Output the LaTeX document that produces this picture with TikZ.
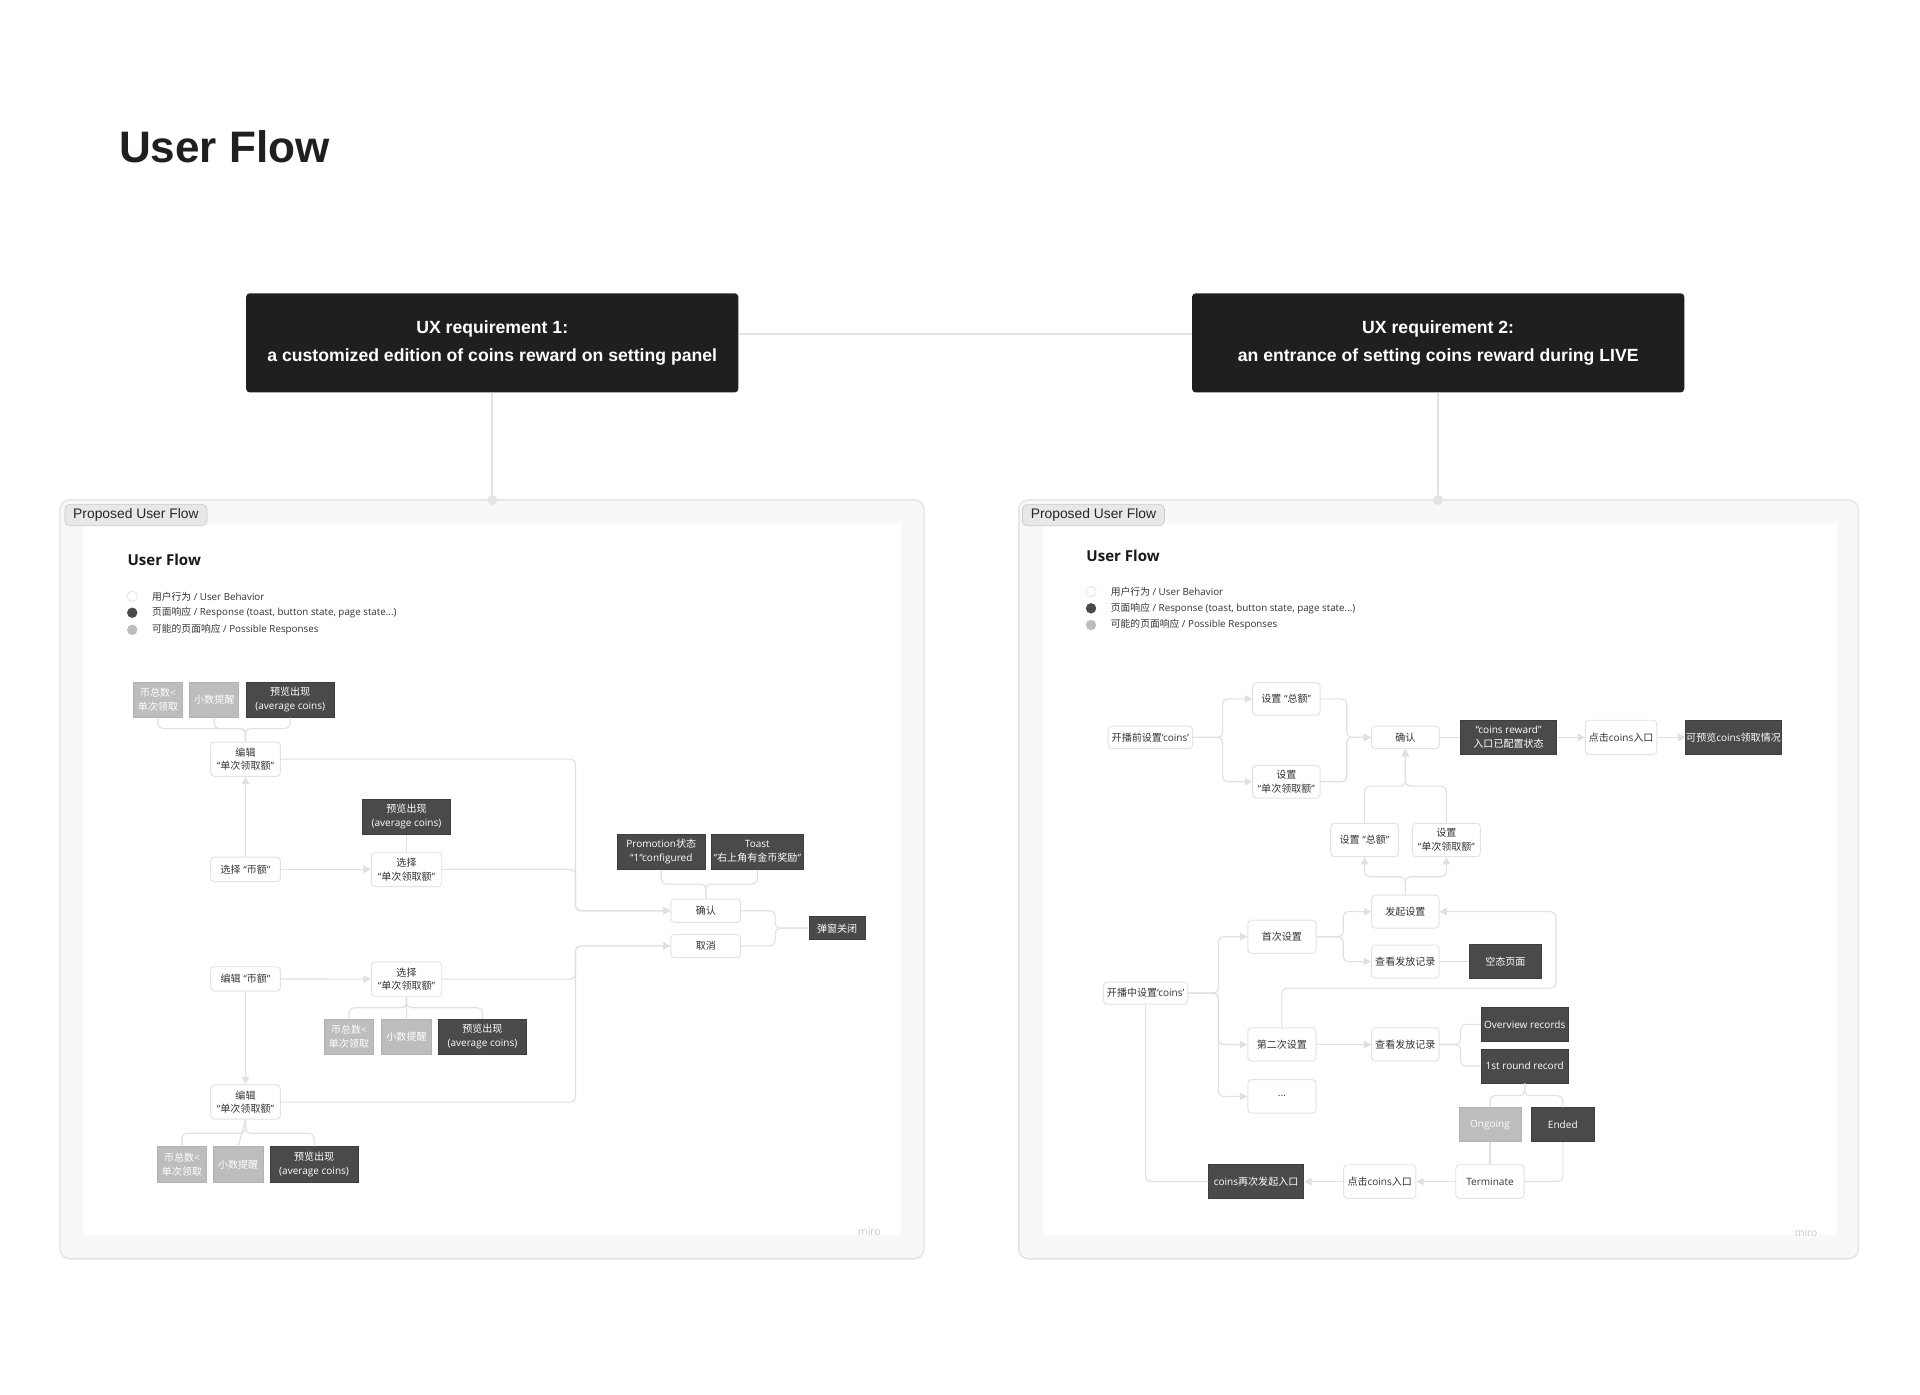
\documentclass[tikz,border=0pt]{standalone}
\usepackage{fontspec}
\setmainfont{Open Sans}
\newfontfamily\lat{Open Sans}
\newfontfamily\hd{Liberation Sans}
\newfontfamily\cjkf{Noto Sans CJK SC}
\newcommand\zh[1]{{\cjkf #1}}
\newcommand\nf{\lat\fontsize{8.2}{11.2}\selectfont}
\usetikzlibrary{arrows.meta}
\definecolor{lnc}{HTML}{E0E0E0}
\definecolor{wbd}{HTML}{E3E3E3}
\definecolor{txt}{HTML}{333333}
\definecolor{dk}{HTML}{4A4A4A}
\definecolor{dkb}{HTML}{3E3E3E}
\definecolor{gy}{HTML}{BDBDBD}
\definecolor{gyb}{HTML}{B2B2B2}
\definecolor{hdbox}{HTML}{1F1F1F}
\definecolor{panelfill}{HTML}{F8F8F8}
\definecolor{panelbd}{HTML}{E4E4E4}
\definecolor{tabfill}{HTML}{E8E8E8}
\definecolor{tabbd}{HTML}{CACACA}
\definecolor{mirotxt}{HTML}{C8C6D4}
\tikzset{
  nbase/.style={inner sep=0pt, align=center, font=\nf},
  sz/.style 2 args={minimum width=#1pt, minimum height=#2pt},
  wn/.style={nbase, draw=wbd, fill=white, rounded corners=3pt, line width=0.8pt, text=txt},
  dn/.style={nbase, draw=dkb, fill=dk, text=white, line width=0.6pt},
  gn/.style={nbase, draw=gyb, fill=gy, text=white, line width=0.6pt},
  conn/.style={draw=lnc, line width=0.9pt, rounded corners=4pt},
  arr/.style={conn, -{Triangle[length=6pt,width=6pt]}},
  hdbx/.style={fill=hdbox, rounded corners=3pt, text=white, align=center, inner sep=0pt,
    font=\hd\bfseries\fontsize{14.4}{22.3}\selectfont, minimum width=402pt, minimum height=81pt},
  hdline/.style={draw=panelbd, line width=1.6pt},
  hdot/.style={circle, fill=panelbd, inner sep=0pt, minimum size=8pt},
  tabn/.style={fill=tabfill, draw=tabbd, rounded corners=4pt, line width=0.6pt, inner sep=0pt,
    minimum width=116pt, minimum height=17.4pt, font=\hd\fontsize{11.3}{12}\selectfont, text=black!85},
  legtxt/.style={anchor=west, inner sep=0pt, font=\lat\fontsize{8}{9}\selectfont, text=txt},
  legc/.style={circle, inner sep=0pt, minimum size=8.5pt},
  uft/.style={anchor=west, inner sep=0pt, font=\lat\bfseries\fontsize{12.3}{14}\selectfont, text=black!90},
  miro/.style={font=\lat\fontsize{8.5}{9}\selectfont, text=mirotxt, inner sep=0pt}
}
\begin{document}
\begin{tikzpicture}[x=1pt,y=-1pt]
\useasboundingbox (0,0) rectangle (1568,1139.2);
\fill[white] (0,0) rectangle (1568,1139.2);

% ---------- title and header boxes ----------
\node[anchor=base west, inner sep=0pt, font=\hd\bfseries\fontsize{36}{40}\selectfont, text=black!88] (title) at (97,133) {User Flow};
\node[hdbx] (b1) at (402,280) {UX requirement 1:\\a customized edition of coins reward on setting panel};
\node[hdbx] (b2) at (1174.5,280) {UX requirement 2:\\an entrance of setting coins reward during LIVE};

% ---------- panels ----------
\draw[draw=panelbd, fill=panelfill, rounded corners=8pt, line width=1.2pt] (49,408.3) rectangle (754.6,1028);
\fill[white] (68,427.4) rectangle (735.5,1008.6);
\draw[draw=panelbd, fill=panelfill, rounded corners=8pt, line width=1.2pt] (832,408.3) rectangle (1517.6,1028);
\fill[white] (851.5,427.4) rectangle (1500,1008.6);
\node[tabn] (tab1) at (111,420.6) {Proposed User Flow};
\node[tabn] (tab2) at (893,420.6) {Proposed User Flow};
\node[miro] (miro1) at (710,1006) {miro};
\node[miro] (miro2) at (1475,1007) {miro};

\node[hdot] (p1) at (402,408.3) {};
\node[hdot] (p2) at (1174.5,408.3) {};
\draw[hdline] ([yshift=7pt]b1.east) -- ([yshift=7pt]b2.west);
\draw[hdline] (b1.south) -- (p1.center);
\draw[hdline] (b2.south) -- (p2.center);

% ---------- left panel: heading and legend ----------
\node[uft] (uf1) at (104,457) {User Flow};
\node[legc, draw=wbd, fill=white, line width=0.6pt] (lc1) at (108,487) {};
\node[legc, fill=dk] (lc2) at (108,500.4) {};
\node[legc, fill=gy] (lc3) at (108,514.4) {};
\node[legtxt] (lt1) at (124,487) {\zh{用户行为} / User Behavior};
\node[legtxt] (lt2) at (124,500.4) {\zh{页面响应} / Response (toast, button state, page state...)};
\node[legtxt] (lt3) at (124,514.4) {\zh{可能的页面响应} / Possible Responses};

% ---------- left panel: nodes ----------
\node[gn, sz={40}{28.5}] (g1) at (129,571.5) {\zh{币总数}<\\\zh{单次领取}};
\node[gn, sz={40}{28.5}] (g2) at (175,571.5) {\zh{小数提醒}};
\node[dn, sz={72}{28.5}] (d1) at (237,571.5) {\zh{预览出现}\\(average coins)};
\node[wn, sz={57}{28}] (e1) at (200.5,620) {\zh{编辑}\\“\zh{单次领取额}”};
\node[wn, sz={57}{20}] (s1) at (200.5,710) {\zh{选择} “\zh{币额}”};
\node[dn, sz={72}{28.5}] (d2) at (332,667) {\zh{预览出现}\\(average coins)};
\node[wn, sz={57.5}{28}] (s2) at (332,710) {\zh{选择}\\“\zh{单次领取额}”};
\node[wn, sz={57}{20}] (s3) at (200.5,799.5) {\zh{编辑} “\zh{币额}”};
\node[wn, sz={57.5}{28}] (s4) at (332,799.6) {\zh{选择}\\“\zh{单次领取额}”};
\node[gn, sz={40.5}{29}] (g3) at (285,846.6) {\zh{币总数}<\\\zh{单次领取}};
\node[gn, sz={40.5}{29}] (g4) at (332,846.6) {\zh{小数提醒}};
\node[dn, sz={72}{29}] (d3) at (394,846.6) {\zh{预览出现}\\(average coins)};
\node[wn, sz={57}{28}] (e2) at (200.5,900) {\zh{编辑}\\“\zh{单次领取额}”};
\node[gn, sz={40.5}{29}] (g5) at (148.6,951) {\zh{币总数}<\\\zh{单次领取}};
\node[gn, sz={40.5}{29}] (g6) at (194.5,951) {\zh{小数提醒}};
\node[dn, sz={72}{29}] (d4) at (256.5,951) {\zh{预览出现}\\(average coins)};
\node[dn, sz={72}{29}] (pm) at (540,695.5) {Promotion\zh{状态}\\“1“configured};
\node[dn, sz={75}{29}] (toast) at (618.5,695.5) {Toast\\“\zh{右上角有金币奖励}”};
\node[wn, sz={57}{19}] (c1) at (576.4,743.8) {\zh{确认}};
\node[wn, sz={57}{19}] (c2) at (576.4,772.5) {\zh{取消}};
\node[dn, sz={45.4}{19}] (close) at (683.7,758) {\zh{弹窗关闭}};

% ---------- left panel: junctions ----------
\coordinate (jA) at (200.5,595);
\coordinate (bA) at (470,743.8);
\coordinate (bB) at (470,772.5);
\coordinate (sj4) at (332,823);
\coordinate (ej2) at (200.5,925.5);
\coordinate (cj1) at (576.4,722);
\coordinate (clj) at (633,758);

% ---------- left panel: connectors ----------
\draw[conn] (g1.south) |- (jA) -- (e1.north);
\draw[conn] (g2.south) |- (jA) -- (e1.north);
\draw[conn] (d1.south) |- (jA) -- (e1.north);
\draw[arr] (s1.north) -- (e1.south);
\draw[conn] (d2.south) -- (s2.north);
\draw[arr] (s1.east) -- (s2.west);
\draw[arr] (s3.east) -- (s4.west);
\draw[arr] (s3.south) -- (e2.north);
\draw[conn] (s4.south) -- (sj4) -| (g3.north);
\draw[conn] (s4.south) -- (g4.north);
\draw[conn] (s4.south) -- (sj4) -| (d3.north);
\draw[conn] (e2.south) -- (ej2) -| (g5.north);
\draw[conn] (e2.south) -- (g6.north);
\draw[conn] (e2.south) -- (ej2) -| (d4.north);
\draw[arr] (e1.east) -| (bA) -- (c1.west);
\draw[arr] (s2.east) -| (bA) -- (c1.west);
\draw[arr] (s4.east) -| (bB) -- (c2.west);
\draw[arr] (e2.east) -| (bB) -- (c2.west);
\draw[conn] (pm.south) |- (cj1) -- (c1.north);
\draw[conn] (toast.south) |- (cj1) -- (c1.north);
\draw[conn] (c1.east) -| (clj) -- (close.west);
\draw[conn] (c2.east) -| (clj) -- (close.west);

% ---------- right panel: heading and legend ----------
\node[uft] (uf2) at (887,454) {User Flow};
\node[legc, draw=wbd, fill=white, line width=0.6pt] (rc1) at (891,483.2) {};
\node[legc, fill=dk] (rc2) at (891,496.8) {};
\node[legc, fill=gy] (rc3) at (891,510.4) {};
\node[legtxt] (rt1) at (907,483.2) {\zh{用户行为} / User Behavior};
\node[legtxt] (rt2) at (907,496.8) {\zh{页面响应} / Response (toast, button state, page state...)};
\node[legtxt] (rt3) at (907,510.4) {\zh{可能的页面响应} / Possible Responses};

% ---------- right panel: nodes ----------
\node[wn, sz={69}{18.5}] (r1) at (939.5,602.2) {\zh{开播前设置}‘coins’};
\node[wn, sz={55}{26.5}] (t1) at (1050.5,570.8) {\zh{设置} “\zh{总额}”};
\node[wn, sz={55}{26.7}] (t2) at (1050.5,638.4) {\zh{设置}\\“\zh{单次领取额}”};
\node[wn, sz={55.4}{18.4}] (ok) at (1147.7,602.2) {\zh{确认}};
\node[dn, sz={78}{28}] (cs) at (1232,602.2) {“coins reward”\\\zh{入口已配置状态}};
\node[wn, sz={58.3}{28}] (dj) at (1323.9,602.2) {\zh{点击}coins\zh{入口}};
\node[dn, sz={78}{28}] (pv) at (1415.7,602.2) {\zh{可预览}coins\zh{领取情况}};
\node[wn, sz={55.3}{27.2}] (t3) at (1114.4,686) {\zh{设置} “\zh{总额}”};
\node[wn, sz={55.6}{27.2}] (t4) at (1181.2,686) {\zh{设置}\\“\zh{单次领取额}”};
\node[wn, sz={55}{27}] (fq) at (1147.7,744.5) {\zh{发起设置}};
\node[wn, sz={55.7}{27}] (sc) at (1046.9,765) {\zh{首次设置}};
\node[wn, sz={55}{27}] (ck1) at (1147.7,785.3) {\zh{查看发放记录}};
\node[dn, sz={59.3}{27.4}] (ep) at (1229.4,785.3) {\zh{空态页面}};
\node[wn, sz={69}{18}] (r2) at (935.6,811) {\zh{开播中设置}‘coins’};
\node[wn, sz={55.7}{27.2}] (sd) at (1046.9,853) {\zh{第二次设置}};
\node[wn, sz={55.7}{27.3}] (dots) at (1046.9,895.4) {...};
\node[wn, sz={55}{27.2}] (ck2) at (1147.7,853) {\zh{查看发放记录}};
\node[dn, sz={71.3}{28}] (ov) at (1245.2,836.6) {Overview records};
\node[dn, sz={71.3}{27.8}] (fr) at (1245.2,870.6) {1st round record};
\node[gn, sz={50.5}{27.8}] (og) at (1216.8,918.5) {Ongoing};
\node[dn, sz={50.7}{27.8}] (en) at (1276.3,918.5) {Ended};
\node[wn, sz={55.9}{27.4}] (tm) at (1216.8,964.9) {Terminate};
\node[wn, sz={58.9}{27.4}] (dj2) at (1126.8,964.9) {\zh{点击}coins\zh{入口}};
\node[dn, sz={77.9}{27.4}] (re) at (1025.8,964.9) {coins\zh{再次发起入口}};

% ---------- right panel: junctions ----------
\coordinate (rb1) at (998.5,602.2);
\coordinate (okj) at (1099.8,602.2);
\coordinate (oj) at (1147.7,642);
\coordinate (fj) at (1147.7,716);
\coordinate (sj) at (1097,765);
\coordinate (lp1) at (1270.7,807);
\coordinate (rb2) at (995,811);
\coordinate (cj) at (1192.8,853);
\coordinate (fj2) at (1245.2,894.8);

% ---------- right panel: connectors ----------
\draw[arr] (r1.east) -- (rb1) |- (t1.west);
\draw[arr] (r1.east) -- (rb1) |- (t2.west);
\draw[arr] (t1.east) -| (okj) -- (ok.west);
\draw[arr] (t2.east) -| (okj) -- (ok.west);
\draw[conn] (ok.east) -- (cs.west);
\draw[arr] (cs.east) -- (dj.west);
\draw[arr] (dj.east) -- (pv.west);
\draw[arr] (t3.north) |- (oj) -- (ok.south);
\draw[arr] (t4.north) |- (oj) -- (ok.south);
\draw[arr] (fq.north) -- (fj) -| (t3.south);
\draw[arr] (fq.north) -- (fj) -| (t4.south);
\draw[arr] (sc.east) -- (sj) |- (fq.west);
\draw[arr] (sc.east) -- (sj) |- (ck1.west);
\draw[conn] (ck1.east) -- (ep.west);
\draw[arr] (sd.north) |- (lp1) |- (fq.east);
\draw[arr] (r2.east) -- (rb2) |- (sc.west);
\draw[arr] (r2.east) -- (rb2) |- (sd.west);
\draw[arr] (r2.east) -- (rb2) |- (dots.west);
\draw[arr] (sd.east) -- (ck2.west);
\draw[conn] (ck2.east) -- (cj) |- (ov.west);
\draw[conn] (ck2.east) -- (cj) |- (fr.west);
\draw[conn] (fr.south) -- (fj2) -| (og.north);
\draw[conn] (fr.south) -- (fj2) -| (en.north);
\draw[conn] (og.south) -- (tm.north);
\draw[conn] (en.south) |- (tm.east);
\draw[arr] (tm.west) -- (dj2.east);
\draw[arr] (dj2.west) -- (re.east);
\draw[conn] (re.west) -| (r2.south);
\end{tikzpicture}
\end{document}
